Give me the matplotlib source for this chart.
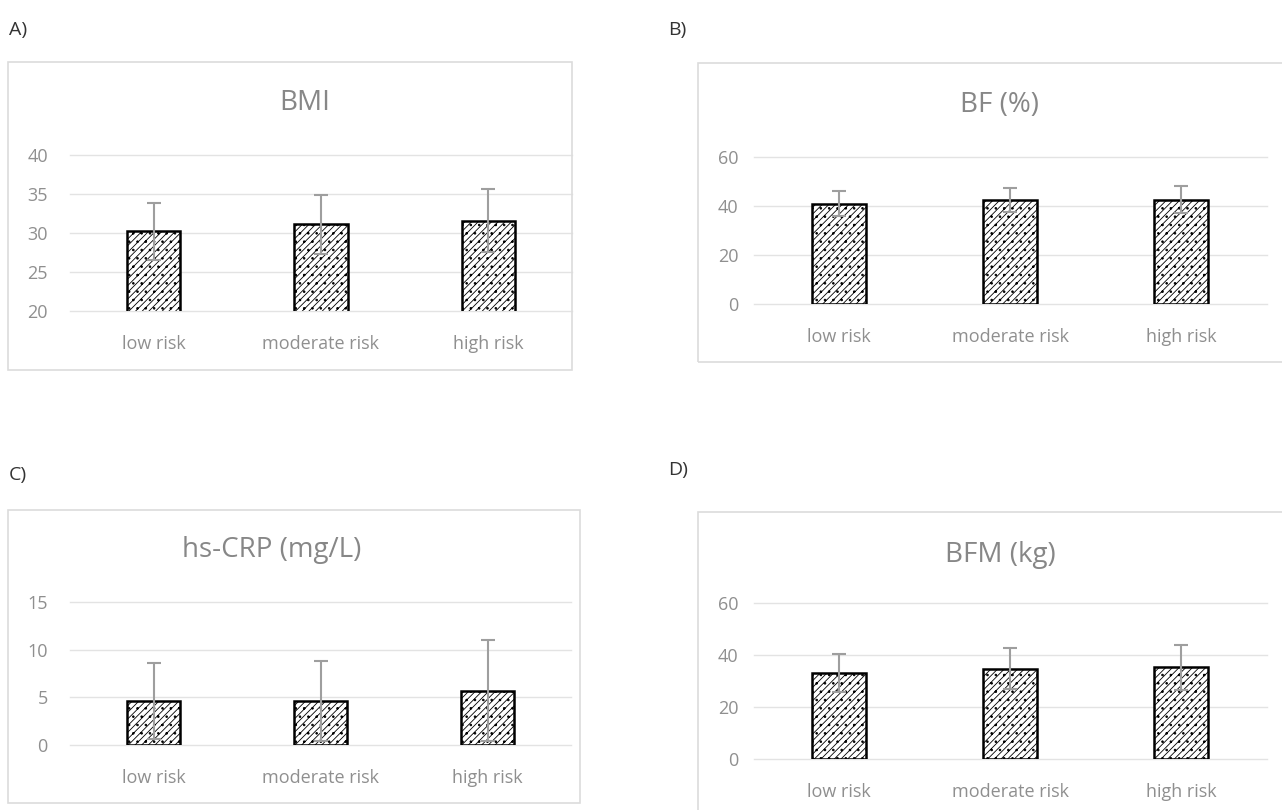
import matplotlib
matplotlib.use("Agg")
import matplotlib.pyplot as plt
from matplotlib.patches import Rectangle

plt.rcParams['font.family'] = ['Open Sans', 'DejaVu Sans']
plt.rcParams['hatch.linewidth'] = 0.6

categories = ["low risk", "moderate risk", "high risk"]

bmi_mean = [30.2, 31.1, 31.6]
bmi_sd = [3.7, 3.8, 4.1]
bmi_ticks = [20, 25, 30, 35, 40]

bf_mean = [41.0, 42.5, 42.5]
bf_sd = [5.0, 5.0, 5.5]
bf_ticks = [0, 20, 40, 60]

crp_mean = [4.6, 4.6, 5.7]
crp_sd = [4.0, 4.2, 5.3]
crp_ticks = [0, 5, 10, 15]

bfm_mean = [33.0, 34.8, 35.3]
bfm_sd = [7.2, 8.0, 8.7]
bfm_ticks = [0, 20, 40, 60]

titles = ["BMI", "BF (%)", "hs-CRP (mg/L)", "BFM (kg)"]
panel_labels = ["A)", "B)", "C)", "D)"]

W, H = 1282, 810
fig = plt.figure(figsize=(W / 100, H / 100), dpi=100)
fig.patch.set_facecolor("white")

GRAY = "#8f8f8f"
TITLE_GRAY = "#878787"


def px_axes(x0, x1, ytop, ybot):
    return fig.add_axes([x0 / W, 1 - ybot / H, (x1 - x0) / W, (ybot - ytop) / H])


def box(x0, y0, x1, y1):
    fig.patches.append(Rectangle((x0 / W, 1 - y1 / H), (x1 - x0) / W, (y1 - y0) / H,
                                 transform=fig.transFigure, fill=False,
                                 edgecolor="#dcdcdc", linewidth=1.2))


def panel(ax, means, sds, ticks, title, title_xy, label, label_xy, ypad, xpad):
    x = list(range(len(categories)))
    lo, hi = ticks[0], ticks[-1]
    ax.bar(x, means, width=0.32, color="white", edgecolor="black", linewidth=1.8,
           hatch="/////..", zorder=2)
    ax.errorbar(x, means, yerr=sds, fmt="none", ecolor="#9e9e9e", elinewidth=1.5,
                capsize=5, capthick=1.5, zorder=3)
    ax.set_xlim(-0.5, len(categories) - 0.5)
    ax.set_ylim(lo, hi)
    ax.set_yticks(ticks)
    ax.set_yticklabels([str(t) for t in ticks])
    ax.set_xticks(x)
    ax.set_xticklabels(categories)
    ax.tick_params(axis="both", length=0, colors=GRAY, labelsize=13)
    ax.tick_params(axis="y", pad=ypad)
    ax.tick_params(axis="x", pad=xpad)
    ax.grid(axis="y", color="#e3e3e3", linewidth=1.0, zorder=0)
    ax.set_axisbelow(True)
    for line in ax.get_ygridlines():
        line.set_clip_on(False)
    for s in ax.spines.values():
        s.set_visible(False)
    ax.patch.set_alpha(0)
    fig.text(title_xy[0] / W, 1 - title_xy[1] / H, title, ha="center", va="center",
             fontsize=20, color=TITLE_GRAY)
    fig.text(label_xy[0] / W, 1 - label_xy[1] / H, label, ha="left", va="center",
             fontsize=14, color="#333333")


box(8, 62, 572, 370)
box(698, 63, 1290, 362)
box(8, 510, 580, 803)
box(698, 512, 1290, 818)

axA = px_axes(70, 572, 155, 311)
panel(axA, bmi_mean, bmi_sd, bmi_ticks, titles[0], (305, 103), panel_labels[0], (9, 30), 16, 17)

axB = px_axes(753.5, 1266.5, 157, 304)
panel(axB, bf_mean, bf_sd, bf_ticks, titles[1], (1000, 105), panel_labels[1], (668, 30), 11, 17)

axC = px_axes(70, 571, 602, 745)
panel(axC, crp_mean, crp_sd, crp_ticks, titles[2], (272, 550), panel_labels[2], (9, 475), 16, 17)

axD = px_axes(753.5, 1266.5, 603, 759)
panel(axD, bfm_mean, bfm_sd, bfm_ticks, titles[3], (1000, 555), panel_labels[3], (668, 470), 11, 17)

fig.savefig("out.png", dpi=100, facecolor="white")
